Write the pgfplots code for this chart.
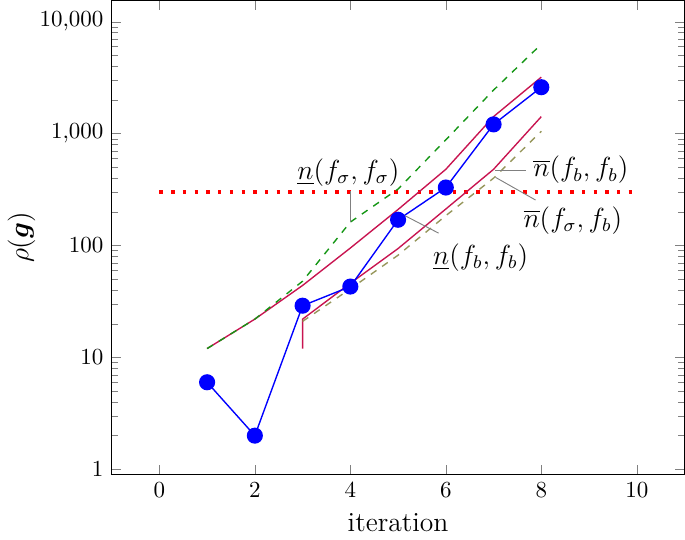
\documentclass[border=0pt]{standalone}
\usepackage{pgfplots}
\pgfplotsset{compat=1.18}
\usepackage{amsmath}
\definecolor{crim}{RGB}{200,20,80}
\definecolor{dgreen}{RGB}{20,150,20}
\definecolor{oliv}{RGB}{150,150,90}
\begin{document}
\begin{tikzpicture}
\begin{axis}[
  scale only axis, width=249pt, height=206pt,
  ymode=log, xmin=-1, xmax=11, ymin=0.9, ymax=15500,
  xtick={0,2,...,10},
  log ticks with fixed point,
  xlabel={iteration}, ylabel={$\rho(\boldsymbol{g})$},
  label style={font=\large},
  ylabel shift=-5pt,
]
\addplot[red, line width=1.5pt, dash pattern=on 1.5pt off 3.6pt] coordinates {(0,300)(10,300)};
\addplot[crim, semithick] coordinates {(1,12)(2,22)(3,44)(4,95)(5,210)(6,480)(7,1420)(8,3200)};
\addplot[crim, semithick] coordinates {(3,12)(3,22)(4,46)(5,94)(6,212)(7,480)(8,1420)};
\addplot[dgreen, semithick, dashed] coordinates {(1,12)(2,22)(3,48)(4,162)(5,320)(6,880)(7,2450)(8,6300)};
\addplot[oliv, semithick, dashed] coordinates {(3,21)(4,41)(5,82)(6,185)(7,400)(8,1050)};
\addplot[blue, semithick, mark=*, mark size=3.2pt] coordinates {(1,6)(2,2)(3,29)(4,43)(5,170)(6,330)(7,1210)(8,2600)};
\draw[gray] (axis cs:4,162) -- (axis cs:4,305);
\node[font=\large] at (axis cs:3.96,451) {$\underline{n}(f_\sigma,f_\sigma)$};
\draw[gray] (axis cs:5.01,198) -- (axis cs:5.85,129);
\node[font=\large] at (axis cs:6.73,78.5) {$\underline{n}(f_b,f_b)$};
\draw[gray] (axis cs:7.04,473) -- (axis cs:7.67,473);
\node[font=\large] at (axis cs:8.83,473) {$\overline{n}(f_b,f_b)$};
\draw[gray] (axis cs:7.04,407) -- (axis cs:7.88,255);
\node[font=\large] at (axis cs:8.66,168) {$\overline{n}(f_\sigma,f_b)$};
\end{axis}
\end{tikzpicture}
\end{document}
